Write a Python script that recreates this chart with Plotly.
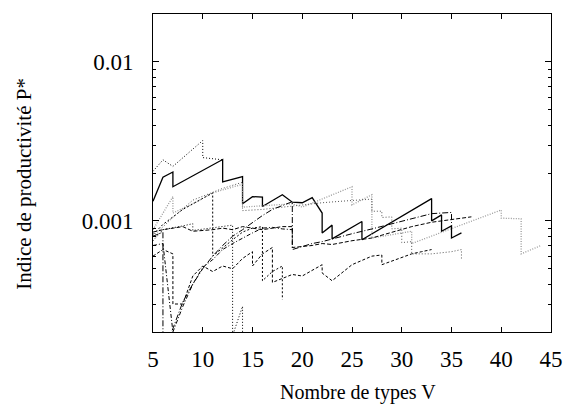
import plotly.graph_objects as go

# ---------------- data ----------------
x_ticks = [5, 10, 15, 20, 25, 30, 35, 40, 45]
y_ticks = [0.001, 0.01]
y_ticktext = ["0.001", "0.01"]
y_minor = [0.0003, 0.0004, 0.0005, 0.0006, 0.0007, 0.0008, 0.0009,
           0.002, 0.003, 0.004, 0.005, 0.006, 0.007, 0.008, 0.009]

s1_x = [5, 6, 7, 7, 12, 12, 14, 14, 15, 16, 16, 18, 19, 20, 21, 22, 22, 23, 23, 26, 26, 33, 33, 34, 34, 35, 35, 36]
s1_y = [0.00133, 0.00188, 0.00203, 0.00164, 0.00243, 0.00176, 0.0019, 0.00128, 0.00142, 0.00141, 0.00123,
        0.00146, 0.00131, 0.0013, 0.0014, 0.00112, 0.00084, 0.00094, 0.00077, 0.00099, 0.00076, 0.00138,
        0.001, 0.00109, 0.00086, 0.00093, 0.00078, 0.00084]

s2_x = [5, 6, 7, 10, 10, 12]
s2_y = [0.00205, 0.00242, 0.0022, 0.0032, 0.0025, 0.00242]

s3_x = [5, 7, 7, 9, 11, 14, 14, 16, 19, 20, 25, 25, 27, 27, 29, 31, 31, 36, 40, 40, 42, 42, 44]
s3_y = [0.00088, 0.00142, 0.00112, 0.00128, 0.0015, 0.0017, 0.00122, 0.00124, 0.00128, 0.00122, 0.00164,
        0.00126, 0.00146, 0.00078, 0.00082, 0.00086, 0.00072, 0.00094, 0.00117, 0.00104, 0.00103, 0.00062, 0.0007]

s4_x = [5, 6, 8, 9, 9, 11, 12, 13, 13, 14, 14]
s4_y = [0.00075, 0.00088, 0.00093, 0.00096, 0.00087, 0.0009, 0.00092, 0.00094, 0.00019, 0.00029, 0.00018]

s5_x = [5, 6, 8, 10, 11, 11, 12, 13, 14, 15, 16, 16, 17, 18, 18]
s5_y = [0.00082, 0.00095, 0.00118, 0.00138, 0.0015, 0.0006, 0.00068, 0.00076, 0.00085, 0.0009, 0.00092,
        0.00042, 0.00048, 0.00052, 0.00032]

s6_x = [5, 7, 9, 12, 14, 14, 16, 18, 20, 22, 24, 26, 27, 27, 28, 28, 29, 29, 30, 30, 31, 31, 33, 35, 36, 36]
s6_y = [0.0008, 0.00105, 0.00135, 0.0016, 0.00175, 0.00116, 0.00118, 0.00122, 0.00126, 0.0013, 0.00133,
        0.00136, 0.00137, 0.00115, 0.00115, 0.00105, 0.00106, 0.00089, 0.0009, 0.00073, 0.00074, 0.00062,
        0.00062, 0.00064, 0.00066, 0.00057]

s7_x = [5, 6, 6, 7, 8, 9, 10, 11, 12, 13, 14, 15, 16, 17, 18, 19, 19, 20, 21, 22, 23, 25, 27, 29, 31, 33, 35, 35]
s7_y = [0.0008, 0.00085, 0.00015, 0.00021, 0.00031, 0.0004, 0.0005, 0.0006, 0.0007, 0.0008, 0.00088,
        0.00098, 0.00108, 0.00118, 0.00125, 0.00132, 0.00066, 0.00069, 0.00072, 0.00074, 0.00077, 0.00083,
        0.00089, 0.00096, 0.00104, 0.00111, 0.00113, 0.00097]

s8_x = [5, 6, 8, 9, 11, 12, 13, 14, 16, 17, 18, 19, 19, 21, 22, 23, 25, 27, 29, 31, 33, 35, 37]
s8_y = [0.00085, 0.00088, 0.00092, 0.00086, 0.00088, 0.0009, 0.00088, 0.00092, 0.00088, 0.0009, 0.00092,
        0.00092, 0.00068, 0.0007, 0.00072, 0.00071, 0.00075, 0.00078, 0.00085, 0.00092, 0.00098, 0.00102, 0.00106]

s9_x = [5, 6, 7, 7, 8, 9, 10, 11, 12, 13, 14, 15, 15, 16, 17, 17, 19, 20, 22, 22, 23, 25, 27, 28, 28, 31, 32, 33]
s9_y = [0.0006, 0.00066, 0.00062, 0.0003, 0.0003, 0.00045, 0.00052, 0.00048, 0.00052, 0.0005, 0.00058,
        0.00064, 0.00052, 0.00062, 0.00068, 0.00041, 0.00046, 0.00045, 0.00053, 0.00047, 0.00042, 0.00053,
        0.0006, 0.00061, 0.00053, 0.00062, 0.00064, 0.00066]

s10_x = [5, 6, 7, 8, 9, 10, 11, 12, 13, 14, 15, 16, 17, 18, 19]
s10_y = [0.0007, 0.00072, 0.0002, 0.00029, 0.0004, 0.00051, 0.00057, 0.00066, 0.00072, 0.00078, 0.00084,
         0.0009, 0.00091, 0.00089, 0.00088]

series = [
    (s1_x, s1_y, "black", "solid", 1.3),
    (s2_x, s2_y, "black", "1px,2px", 1.0),
    (s3_x, s3_y, "#999999", "1px,1.5px", 1.3),
    (s4_x, s4_y, "black", "1px,2px", 1.0),
    (s5_x, s5_y, "black", "2px,2px", 1.0),
    (s6_x, s6_y, "#555555", "1px,2px", 1.0),
    (s7_x, s7_y, "black", "6px,2px,1px,2px", 1.0),
    (s8_x, s8_y, "black", "4px,2px", 1.0),
    (s9_x, s9_y, "black", "3px,2px", 1.0),
    (s10_x, s10_y, "black", "4px,2px,1px,2px", 1.0),
]

SERIF = "Liberation Serif"

fig = go.Figure()
for xs, ys, col, dash, w in series:
    fig.add_trace(go.Scatter(x=xs, y=ys, mode="lines",
                             line=dict(color=col, dash=dash, width=w),
                             showlegend=False, hoverinfo="skip"))

fig.update_layout(
    width=575, height=406,
    margin=dict(l=153, r=20, t=14, b=74),
    plot_bgcolor="white", paper_bgcolor="white",
    font=dict(family=SERIF, color="black"),
    showlegend=False,
)
fig.update_xaxes(
    range=[5, 45], tickmode="array", tickvals=x_ticks,
    ticks="inside", ticklen=5, tickcolor="black", tickwidth=1,
    showline=True, linecolor="black", linewidth=1, mirror="ticks",
    showgrid=False, zeroline=False,
    tickfont=dict(size=23, family=SERIF, color="black"),
    ticklabelstandoff=6,
)
fig.update_yaxes(
    type="log", range=[-3.699, -1.699],
    tickmode="array", tickvals=y_ticks, ticktext=y_ticktext,
    ticks="inside", ticklen=6, tickcolor="black", tickwidth=1,
    minor=dict(tickmode="array", tickvals=y_minor, ticks="inside", ticklen=3,
               tickcolor="black", showgrid=False),
    showline=True, linecolor="black", linewidth=1, mirror="ticks",
    showgrid=False, zeroline=False,
    tickfont=dict(size=23, family=SERIF, color="black"),
    ticklabelstandoff=14,
)
fig.add_annotation(text="Nombre de types V", xref="paper", yref="paper",
                   x=0.516, y=-0.19, xanchor="center", yanchor="middle",
                   showarrow=False, font=dict(size=20, family=SERIF, color="black"))
fig.add_annotation(text="Indice de productivité P*", xref="paper", yref="paper",
                   x=-0.325, y=0.465, xanchor="center", yanchor="middle", textangle=-90,
                   showarrow=False, font=dict(size=21, family=SERIF, color="black"))

fig.write_html("out.html", config={"displayModeBar": False},
               post_script="document.body.style.margin='0';document.body.style.overflow='hidden';")
